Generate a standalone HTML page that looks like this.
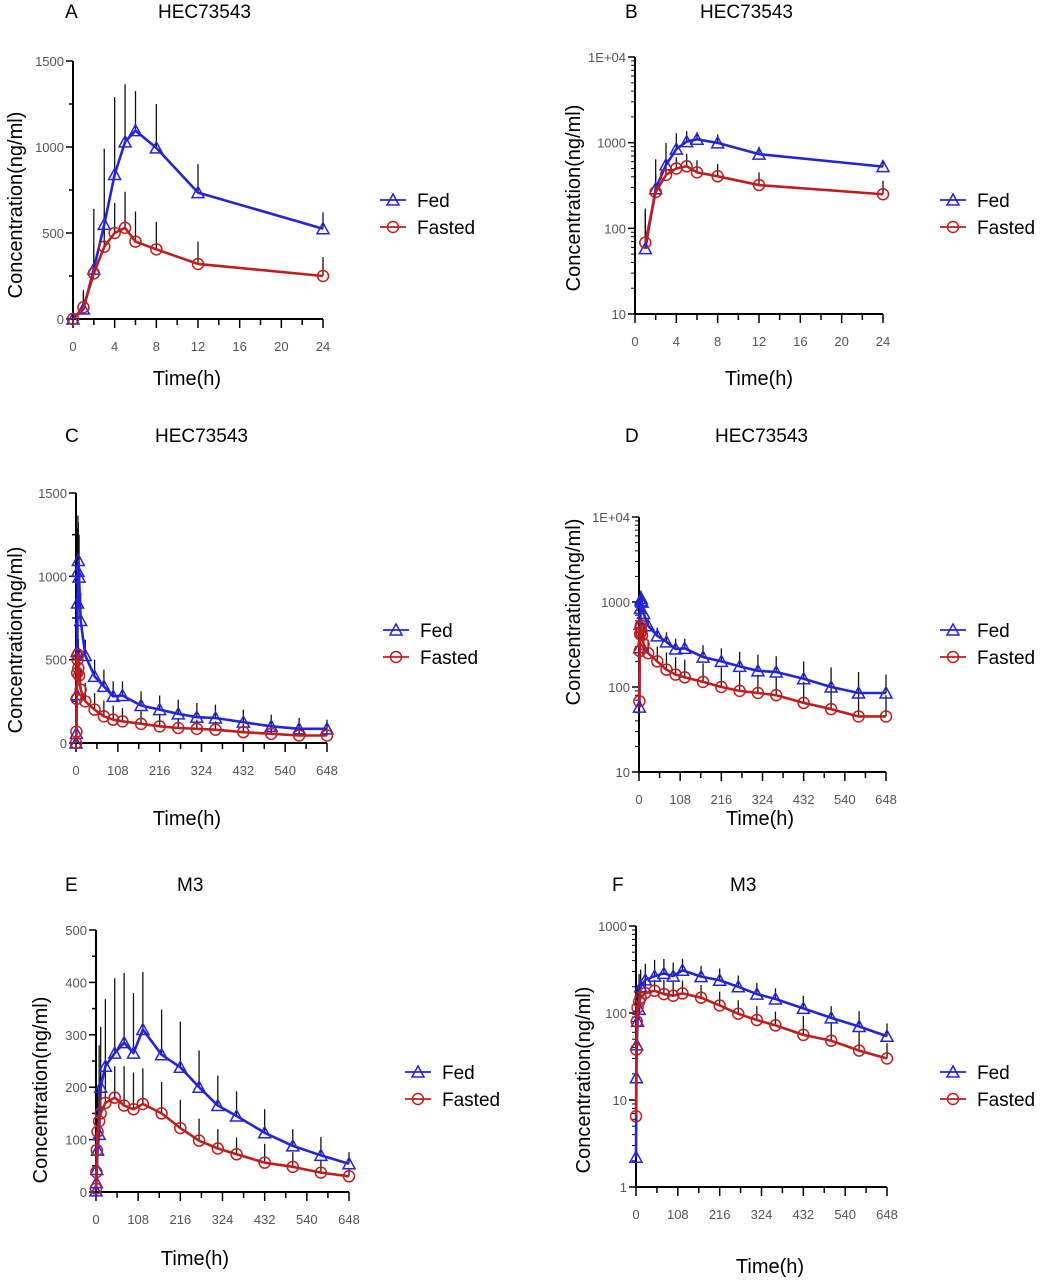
<!DOCTYPE html>
<html><head><meta charset="utf-8"><style>
html,body{margin:0;padding:0;background:#fff;}
svg{display:block;}
text{font-family:"Liberation Sans",sans-serif;}
.tick{font-family:"Liberation Sans",sans-serif;font-size:13px;fill:#555;}
</style></head><body>
<svg id="fig" width="1045" height="1280" viewBox="0 0 1045 1280" xmlns="http://www.w3.org/2000/svg"></svg>
<script>
// HEC73543 parent data (panels A-D)
const hecTimes = [0,1,2,3,4,5,6,8,12,24,48,72,96,120,168,216,264,312,360,432,504,576,648];
const hecFed = [0,58,290,550,840,1030,1095,995,735,525,400,340,280,285,225,200,175,155,150,125,100,85,85];
const hecFedUpper = [0,170,640,990,1290,1365,1325,1250,900,620,500,440,370,370,310,285,260,240,230,200,170,150,140];
const hecFasted = [0,68,265,420,500,530,450,405,320,250,200,160,140,130,115,100,90,85,80,65,55,45,45];
const hecFastedUpper = [0,160,430,615,675,740,625,565,450,360,300,255,225,210,190,170,150,140,130,115,100,90,80];
// M3 metabolite data (panels E-F)
const m3Times = [0,1,2,4,8,12,24,48,72,96,120,168,216,264,312,360,432,504,576,648];
const m3Fed = [2.2,18,43,80,110,200,240,265,285,265,310,262,238,200,165,145,113,88,70,54];
const m3FedUpper = [5,40,90,180,280,315,368,408,418,380,420,348,325,270,222,192,158,120,105,76];
const m3Fasted = [6.5,38,80,115,135,150,170,180,165,158,168,150,122,98,83,72,56,48,37,30];
const m3FastedUpper = [12,70,150,200,220,235,250,240,240,228,236,210,176,140,120,104,92,76,62,45];
// Tick label arrays
const ticksA_x = [0,4,8,12,16,20,24];
const ticksA_y = [0,500,1000,1500];
const ticksC_x = [0,108,216,324,432,540,648];
const ticksE_y = [0,100,200,300,400,500];
const ticksLog4 = [10,100,1000,10000];
const ticksLogF = [1,10,100,1000];

const NS = "http://www.w3.org/2000/svg";
const svg = document.getElementById('fig');
const BLUE = "#2424d8", RED = "#c01e1e";

function mk(tag, attrs, parent){
  const e = document.createElementNS(NS, tag);
  for (const k in attrs) e.setAttribute(k, attrs[k]);
  (parent||svg).appendChild(e);
  return e;
}
function marker(g, type, x, y, color){
  let m;
  if (type === 'tri') {
    m = mk('polygon', {points:`${x},${y-6} ${x-6},${y+5} ${x+6},${y+5}`, fill:'none', stroke:color, 'stroke-width':1.5}, g);
  } else {
    m = mk('circle', {cx:x, cy:y, r:5.5, fill:'none', stroke:color, 'stroke-width':1.5}, g);
  }
  return m;
}

function panel(cfg, times, fed, fedUp, fas, fasUp){
  const g = mk('g', {});
  
  
  const sx = t => cfg.x0 + (t - 0) / cfg.xmax * (cfg.x1 - cfg.x0);
  let sy;
  if (cfg.log) {
    const l0 = Math.log10(cfg.ymin), l1 = Math.log10(cfg.ymax);
    sy = v => cfg.y0 - (Math.log10(v) - l0) / (l1 - l0) * (cfg.y0 - cfg.y1);
  } else {
    sy = v => cfg.y0 - v / cfg.ymax * (cfg.y0 - cfg.y1);
  }
  const ok = v => !cfg.log || v > 0;

  const lt = mk('text', {x:cfg.tx, y:cfg.ty, 'font-size':19, fill:'#000'}, g);
  lt.textContent = cfg.letter;
  
  
  const tt = mk('text', {x:cfg.ttx, y:cfg.ty, 'font-size':19, fill:'#000'}, g);
  tt.textContent = cfg.title;
  
  

  const ax = mk('g', {stroke:'#000', 'stroke-width':2}, g);
  
  
  mk('line', {x1:cfg.x0, y1:cfg.y0, x2:cfg.x0, y2:cfg.y1}, ax);
  mk('line', {x1:cfg.x0, y1:cfg.y0, x2:cfg.x1, y2:cfg.y0}, ax);

  const xl = cfg.xticks;
  const step = xl[1] - xl[0];
  for (let t = 0; t <= cfg.xmax + 1e-9; t += step / 2) {
    const major = Math.abs(t / step - Math.round(t / step)) < 1e-6;
    mk('line', {x1:sx(t), y1:cfg.y0, x2:sx(t), y2:cfg.y0 + (major ? 9 : 6), 'stroke-width':1.5}, ax);
  }
  xl.forEach(t => {
    const tx = mk('text', {x:sx(t), y:cfg.y0 + 32, 'text-anchor':'middle', class:'tick'}, g);
    tx.textContent = t;
    
    
  });
  const yl = cfg.yticks;
  if (cfg.log) {
    for (let i = 0; i < yl.length; i++) {
      mk('line', {x1:cfg.x0 - 7, y1:sy(yl[i]), x2:cfg.x0, y2:sy(yl[i]), 'stroke-width':1.5}, ax);
      if (i < yl.length - 1) {
        for (let k = 2; k <= 9; k++) {
          const v = yl[i] * k;
          mk('line', {x1:cfg.x0 - 4, y1:sy(v), x2:cfg.x0, y2:sy(v), 'stroke-width':1}, ax);
        }
      }
    }
  } else {
    const ys = yl[1] - yl[0];
    for (let v = 0; v <= cfg.ymax + 1e-9; v += ys / 2) {
      const major = Math.abs(v / ys - Math.round(v / ys)) < 1e-6;
      mk('line', {x1:cfg.x0 - (major ? 7 : 4), y1:sy(v), x2:cfg.x0, y2:sy(v), 'stroke-width':1.5}, ax);
    }
  }
  yl.forEach(v => {
    const ty = mk('text', {x:cfg.x0 - 9, y:sy(v) + 5, 'text-anchor':'end', class:'tick'}, g);
    ty.textContent = (v === 10000 ? '1E+04' : v);
    
    
  });

  const yt = mk('text', {x:0, y:0, 'font-size':20, 'text-anchor':'middle', fill:'#000',
    transform:`translate(${cfg.ylx},${cfg.yly}) rotate(-90)`}, g);
  yt.textContent = 'Concentration(ng/ml)';
  
  
  const xt = mk('text', {x:cfg.xlx, y:cfg.xly, 'font-size':20, 'text-anchor':'middle', fill:'#000'}, g);
  xt.textContent = 'Time(h)';
  
  

  const series = [
    {name:'fed', vals:fed, up:fedUp, color:BLUE, m:'tri'},
    {name:'fasted', vals:fas, up:fasUp, color:RED, m:'circ'}
  ];
  series.forEach(s => {
    const eg = mk('g', {stroke:'#111', 'stroke-width':1.3}, g);
    
    
    times.forEach((t, i) => {
      if (!ok(s.vals[i]) || s.up[i] <= s.vals[i] || t > cfg.xmax) return;
      const l = mk('line', {x1:sx(t), y1:sy(s.vals[i]), x2:sx(t), y2:sy(Math.min(s.up[i], cfg.ymax))}, eg);
      
      
    });
  });
  series.forEach(s => {
    const pts = [];
    times.forEach((t, i) => { if (ok(s.vals[i]) && t <= cfg.xmax) pts.push(sx(t) + ',' + sy(s.vals[i])); });
    const pl = mk('polyline', {points:pts.join(' '), fill:'none', stroke:s.color, 'stroke-width':2.6, 'stroke-linejoin':'round'}, g);
    
    
    const mg = mk('g', {}, g);
    
    
    times.forEach((t, i) => {
      if (!ok(s.vals[i]) || t > cfg.xmax) return;
      const mm = marker(mg, s.m, sx(t), sy(s.vals[i]), s.color);
      
      
    });
  });

  const lg = mk('g', {}, g);
  
  
  series.forEach((s, k) => {
    const yy = cfg.legy + k * 27;
    const e = mk('g', {}, lg);
    
    
    mk('line', {x1:cfg.legx, y1:yy, x2:cfg.legx + 26, y2:yy, stroke:s.color, 'stroke-width':1.8}, e);
    marker(e, s.m, cfg.legx + 13, yy, s.color);
    const lt2 = mk('text', {x:cfg.legx + 37, y:yy + 7, 'font-size':19, fill:'#000'}, e);
    lt2.textContent = s.name === 'fed' ? 'Fed' : 'Fasted';
  });
}

panel({letter:'A', title:'HEC73543', tx:65, ttx:158, ty:18, x0:73, x1:323, xmax:24, y0:319, y1:61, ymax:1500,
  xticks:ticksA_x, yticks:ticksA_y, ylx:22, yly:205, xlx:187, xly:385, legx:380, legy:200},
  hecTimes, hecFed, hecFedUpper, hecFasted, hecFastedUpper);
panel({letter:'B', title:'HEC73543', tx:625, ttx:700, ty:18, x0:635, x1:883, xmax:24, y0:314, y1:57, log:true, ymin:10, ymax:10000,
  xticks:ticksA_x, yticks:ticksLog4, ylx:580, yly:198, xlx:759, xly:385, legx:940, legy:200},
  hecTimes, hecFed, hecFedUpper, hecFasted, hecFastedUpper);
panel({letter:'C', title:'HEC73543', tx:65, ttx:155, ty:442, x0:76, x1:327, xmax:648, y0:743, y1:493, ymax:1500,
  xticks:ticksC_x, yticks:ticksA_y, ylx:22, yly:640, xlx:187, xly:825, legx:383, legy:630},
  hecTimes, hecFed, hecFedUpper, hecFasted, hecFastedUpper);
panel({letter:'D', title:'HEC73543', tx:625, ttx:715, ty:442, x0:639, x1:886, xmax:648, y0:772, y1:517, log:true, ymin:10, ymax:10000,
  xticks:ticksC_x, yticks:ticksLog4, ylx:580, yly:612, xlx:760, xly:825, legx:940, legy:630},
  hecTimes, hecFed, hecFedUpper, hecFasted, hecFastedUpper);
panel({letter:'E', title:'M3', tx:65, ttx:177, ty:891, x0:96, x1:349, xmax:648, y0:1192, y1:930, ymax:500,
  xticks:ticksC_x, yticks:ticksE_y, ylx:47, yly:1090, xlx:195, xly:1265, legx:405, legy:1072},
  m3Times, m3Fed, m3FedUpper, m3Fasted, m3FastedUpper);
panel({letter:'F', title:'M3', tx:612, ttx:730, ty:891, x0:636, x1:887, xmax:648, y0:1187, y1:926, log:true, ymin:1, ymax:1000,
  xticks:ticksC_x, yticks:ticksLogF, ylx:590, yly:1080, xlx:770, xly:1273, legx:940, legy:1072},
  m3Times, m3Fed, m3FedUpper, m3Fasted, m3FastedUpper);
</script>
</body></html>
